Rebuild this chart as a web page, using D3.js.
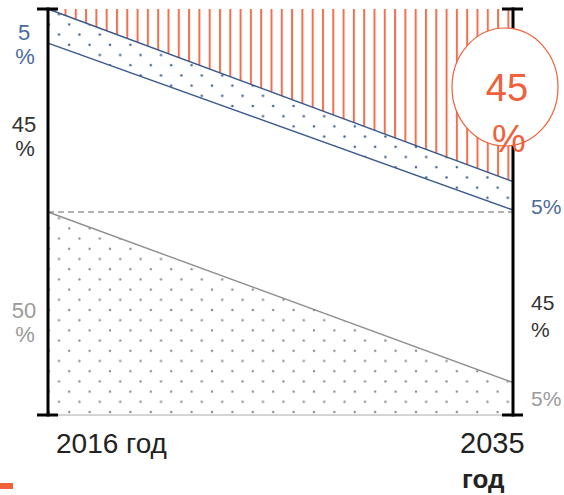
<!DOCTYPE html>
<html><head><meta charset="utf-8">
<script src="https://cdn.jsdelivr.net/npm/d3@7"></script>
<style>body{margin:0;background:#fff}svg{display:block}text{font-family:"Liberation Sans",Arial,sans-serif}</style>
</head><body>
<svg id="c" width="564" height="495"></svg>
<script>
// ---- data (shares in %, bottom to top) ----
const years = ["2016", "2035"];
const yearSuffix = "год";
const grayShare   = [50, 8];
const whiteShare  = [41.6, 42.5];
const blueShare   = [8.4, 7];
const orangeShare = [0, 42.5];
const leftLabels  = [["5", "%"], ["45", "%"], ["50", "%"]];
const rightLabels = ["5%", "45", "%", "5%"];
const bubbleLabel = ["45", "%"];

const svg = d3.select("#c");
const x = d3.scaleLinear().domain([0, 1]).range([48, 513]);
const y = d3.scaleLinear().domain([0, 100]).range([415, 9]);

const rows = years.map((yr, i) => ({i, gray: grayShare[i], white: whiteShare[i], blue: blueShare[i], orange: orangeShare[i]}));
const stack = d3.stack().keys(["gray", "white", "blue", "orange"])(rows);

// patterns
const defs = svg.append("defs");
const hatch = defs.append("pattern").attr("id", "hatch").attr("patternUnits", "userSpaceOnUse")
  .attr("width", 10.3).attr("height", 10).attr("x", 2.7);
hatch.append("rect").attr("width", 10.3).attr("height", 10).attr("fill", "#fff");
hatch.append("rect").attr("x", 0).attr("width", 2).attr("height", 10).attr("fill", "#F2704E");

function dots(id, color, r) {
  const p = defs.append("pattern").attr("id", id).attr("patternUnits", "userSpaceOnUse")
    .attr("width", 20.4).attr("height", 20.4).attr("x", 8).attr("y", 4);
  p.append("rect").attr("width", 20.4).attr("height", 20.4).attr("fill", "#fff");
  p.append("circle").attr("cx", 0).attr("cy", 0).attr("r", r).attr("fill", color);
  p.append("circle").attr("cx", 10.2).attr("cy", 10.2).attr("r", r).attr("fill", color);
  p.append("circle").attr("cx", 20.4).attr("cy", 0).attr("r", r).attr("fill", color);
  p.append("circle").attr("cx", 0).attr("cy", 20.4).attr("r", r).attr("fill", color);
  p.append("circle").attr("cx", 20.4).attr("cy", 20.4).attr("r", r).attr("fill", color);
}
dots("gdots", "#8e8e8e", 1.2);
dots("bdots", "#3f6192", 1.25);

const area = d3.area().x(d => x(d.data.i)).y0(d => y(d[0])).y1(d => y(d[1]));
const fills = {gray: "url(#gdots)", white: "#fff", blue: "url(#bdots)", orange: "url(#hatch)"};
svg.selectAll("path.a").data(stack).join("path").attr("class", "a")
  .attr("d", area).attr("fill", s => fills[s.key]);

// boundary lines
const line = d3.line().x(d => x(d.data.i)).y(d => y(d[1]));
const line0 = d3.line().x(d => x(d.data.i)).y(d => y(d[0]));
const blue = stack.find(s => s.key === "blue");
const gray = stack.find(s => s.key === "gray");
svg.append("path").attr("d", line(blue)).attr("fill", "none").attr("stroke", "#3a5a8c").attr("stroke-width", 1.4);
svg.append("path").attr("d", line0(blue)).attr("fill", "none").attr("stroke", "#3a5a8c").attr("stroke-width", 1.4);
svg.append("path").attr("d", line(gray)).attr("fill", "none").attr("stroke", "#8f8f8f").attr("stroke-width", 1.4);
svg.append("line").attr("x1", x(0)).attr("x2", x(1)).attr("y1", y(0)).attr("y2", y(0)).attr("stroke", "#aaa").attr("stroke-width", 1.2);
svg.append("line").attr("x1", x(0)).attr("x2", x(1)).attr("y1", y(50)).attr("y2", y(50))
  .attr("stroke", "#666").attr("stroke-width", 1).attr("stroke-dasharray", "6,4");

// axes
[0, 1].forEach(i => {
  svg.append("line").attr("x1", x(i)).attr("x2", x(i)).attr("y1", y(100) - 1.5).attr("y2", y(0) + 1.5)
    .attr("stroke", "#000").attr("stroke-width", 3);
  [0, 100].forEach(v => svg.append("line").attr("x1", x(i) - 11).attr("x2", x(i) + 10)
    .attr("y1", y(v)).attr("y2", y(v)).attr("stroke", "#000").attr("stroke-width", 3));
});

// bubble
svg.append("ellipse").attr("cx", 505).attr("cy", 87).attr("rx", 53).attr("ry", 59)
  .attr("fill", "#fff").attr("stroke", "#F0603A").attr("stroke-width", 1.2);
svg.append("text").attr("x", 507).attr("y", 101).attr("text-anchor", "middle")
  .attr("font-size", 38).attr("fill", "#F0603A").text(bubbleLabel[0]);
svg.append("text").attr("x", 509).attr("y", 152).attr("text-anchor", "middle")
  .attr("font-size", 38).attr("fill", "#F0603A").text(bubbleLabel[1]);

// side labels
const leftColors = ["#4a6a9c", "#333", "#9a9a9a"];
const leftY = [40, 132, 318];
leftLabels.forEach((l, k) => {
  svg.append("text").attr("x", 24).attr("y", leftY[k]).attr("text-anchor", "middle")
    .attr("font-size", 22).attr("fill", leftColors[k]).text(l[0]);
  svg.append("text").attr("x", 25).attr("y", leftY[k] + 24).attr("text-anchor", "middle")
    .attr("font-size", 22).attr("fill", leftColors[k]).text(l[1]);
});
const rightColors = ["#4a6a9c", "#333", "#333", "#9a9a9a"];
const rightY = [214, 310, 337, 406];
rightLabels.forEach((l, k) => {
  svg.append("text").attr("x", 531).attr("y", rightY[k]).attr("font-size", 21)
    .attr("fill", rightColors[k]).text(l);
});

// year labels
svg.append("text").attr("x", 56).attr("y", 453).attr("font-size", 28).attr("fill", "#222")
  .text(years[0] + " " + yearSuffix);
svg.append("text").attr("x", 460).attr("y", 453).attr("font-size", 29).attr("fill", "#222").text(years[1]);
svg.append("text").attr("x", 462).attr("y", 488).attr("font-size", 26).attr("font-weight", "bold")
  .attr("fill", "#222").text(yearSuffix);

svg.append("rect").attr("x", 0).attr("y", 483).attr("width", 13).attr("height", 6).attr("fill", "#F0603A");
</script>
</body></html>
